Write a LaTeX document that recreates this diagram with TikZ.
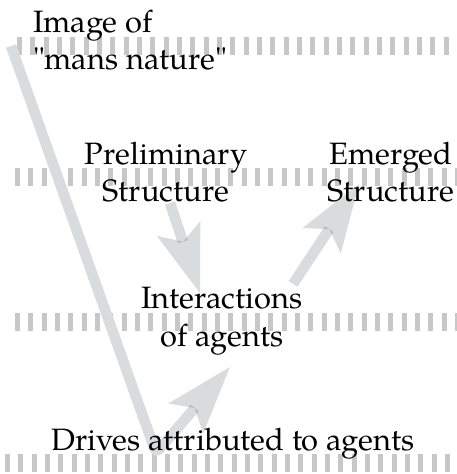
\documentclass[tikz,border=0pt]{standalone}
\usepackage{fontspec}
\setmainfont{TeX Gyre Pagella}
\usetikzlibrary{arrows.meta}
\definecolor{arrowgray}{RGB}{218,219,221}
\definecolor{bargray}{RGB}{199,199,199}
\begin{document}
\begin{tikzpicture}[x=1bp,y=-1bp,
  lbl/.style={font=\fontsize{31}{37.5}\selectfont, inner sep=0pt, text=black},
  flow/.style={draw=arrowgray, line width=10.5bp, line join=round,
    -{Stealth[length=68bp,width=46bp,inset=14bp,line width=0pt]}},
  bar/.style={fill=bargray, draw=none}]
\useasboundingbox (0,0) rectangle (457,474);
% dashed bands
\foreach \y/\s in {37/17, 168/15, 313/15, 454/5} {
  \foreach \k in {0,...,34} {
    \fill[bar] ({\s+13.33*\k},\y) rectangle ++(5,18);
  }
}
% anchor points of the arrows
\coordinate (p1) at (170,203);
\coordinate (p2) at (200,293);
\coordinate (q1) at (293,284);
\coordinate (q2) at (359,184);
\coordinate (r1) at (11,46);
\coordinate (r2) at (156,453);
\coordinate (r3) at (230,367);
\begin{scope}[blend group=multiply]
\draw[flow] (p1) -- (p2);
\draw[flow] (q1) -- (q2);
\draw[flow, rounded corners=5bp] (r1) -- (r2) -- (r3);
\end{scope}
% labels (base anchor = baseline of the last line)
\node[lbl, anchor=base west, align=left] (img) at (33,70) {Image of\\\textquotedbl mans nature\textquotedbl};
\node[lbl, anchor=base, align=center] (prel) at (166,202) {Preliminary\\Structure};
\node[lbl, anchor=base, align=center] (emer) at (391,202) {Emerged\\Structure};
\node[lbl, anchor=base, align=center] (inter) at (222,346) {Interactions\\of agents};
\node[lbl, anchor=base] (drives) at (233,450) {Drives attributed to agents};
\end{tikzpicture}
\end{document}
